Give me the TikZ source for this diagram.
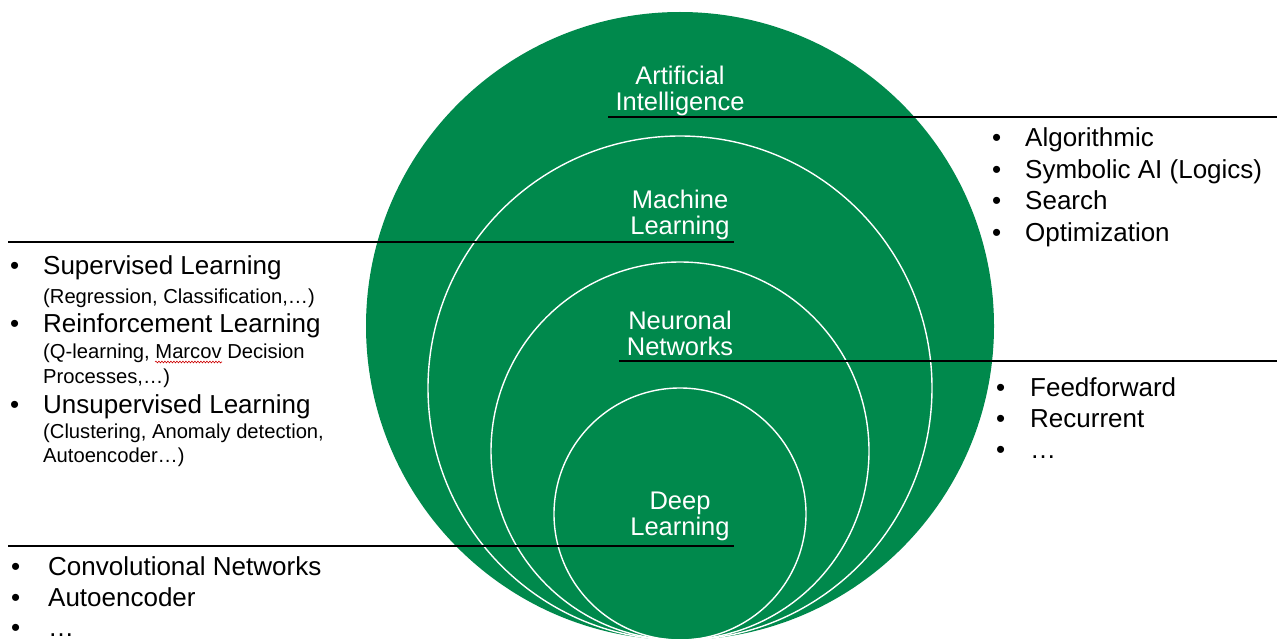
\documentclass[tikz,border=0pt]{standalone}
\usepackage{fontspec}
\setmainfont{Liberation Sans}
\usetikzlibrary{decorations.pathmorphing}
\definecolor{aigreen}{RGB}{0,137,76}
\newcommand{\bul}[1]{\makebox[#1][l]{\textbullet}}
\begin{document}
\begin{tikzpicture}[x=1pt,y=-1pt,
  ring/.style={circle, inner sep=0pt, draw=white, line width=1.4pt},
  ringtext/.style={text=white, align=center, inner sep=0pt, anchor=base,
    font=\fontsize{25.5}{26}\selectfont},
  lead/.style={draw=black, line width=1.4pt},
  itemtext/.style={anchor=base west, inner sep=0pt, font=\fontsize{26}{31}\selectfont},
  subtext/.style={anchor=base west, inner sep=0pt, font=\fontsize{20.2}{25}\selectfont}]
  \useasboundingbox (0,0) rectangle (1277,639);

  % nested sets, all touching at the bottom
  \node[circle, inner sep=0pt, fill=aigreen, minimum size=628pt] (ai) at (680,326) {};
  \node[ring, minimum size=504pt] (ml) at (680,388) {};
  \node[ring, minimum size=378pt] (nn) at (680,451) {};
  \node[ring, minimum size=252pt] (dl) at (680,514) {};

  % leader lines
  \coordinate (aiA) at (608,117);  \coordinate (aiB) at (1277,117);
  \coordinate (mlA) at (8,242);    \coordinate (mlB) at (734,242);
  \coordinate (nnA) at (619,361);  \coordinate (nnB) at (1277,361);
  \coordinate (dlA) at (8,546);    \coordinate (dlB) at (734,546);
  \draw[lead] (aiA) -- (aiB);
  \draw[lead] (mlA) -- (mlB);
  \draw[lead] (nnA) -- (nnB);
  \draw[lead] (dlA) -- (dlB);

  % set names (anchored at the baseline of the second line)
  \node[ringtext] (tai) at (680,111) {Artificial\\Intelligence};
  \node[ringtext] (tml) at (680,235) {Machine\\Learning};
  \node[ringtext] (tnn) at (680,355) {Neuronal\\Networks};
  \node[ringtext] (tdl) at (680,535) {Deep\\Learning};

  % classical AI
  \node[itemtext] (a1) at (992,147) {\bul{33pt}Algorithmic};
  \node[itemtext] (a2) at (992,178.5) {\bul{33pt}Symbolic AI (Logics)};
  \node[itemtext] (a3) at (992,210) {\bul{33pt}Search};
  \node[itemtext] (a4) at (992,241) {\bul{33pt}Optimization};

  % machine learning
  \node[itemtext] (m1) at (10,274) {\bul{33pt}Supervised Learning};
  \node[subtext] (m1s) at (43,303) {(Regression, Classification,…)};
  \node[itemtext] (m2) at (10,332) {\bul{33pt}Reinforcement Learning};
  \node[subtext] (m2s) at (43,358) {(Q-learning, Marcov Decision};
  \node[subtext] (m2t) at (43,383) {Processes,…)};
  \node[itemtext] (m3) at (10,413) {\bul{33pt}Unsupervised Learning};
  \node[subtext] (m3s) at (43,438) {(Clustering, Anomaly detection,};
  \node[subtext] (m3t) at (43,462) {Autoencoder…)};
  \coordinate (sqA) at (155,362); \coordinate (sqB) at (222,362);
  \draw[red!80!black, line width=0.6pt,
    decoration={snake, amplitude=0.9pt, segment length=3pt}, decorate] (sqA) -- (sqB);

  % neural networks
  \node[itemtext] (n1) at (996,396) {\bul{34pt}Feedforward};
  \node[itemtext] (n2) at (996,427) {\bul{34pt}Recurrent};
  \node[itemtext] (n3) at (996,458) {\bul{34pt}…};

  % deep learning
  \node[itemtext] (d1) at (11,575) {\bul{37pt}Convolutional Networks};
  \node[itemtext] (d2) at (11,606) {\bul{37pt}Autoencoder};
  \node[itemtext] (d3) at (11,636) {\bul{37pt}…};
\end{tikzpicture}
\end{document}
